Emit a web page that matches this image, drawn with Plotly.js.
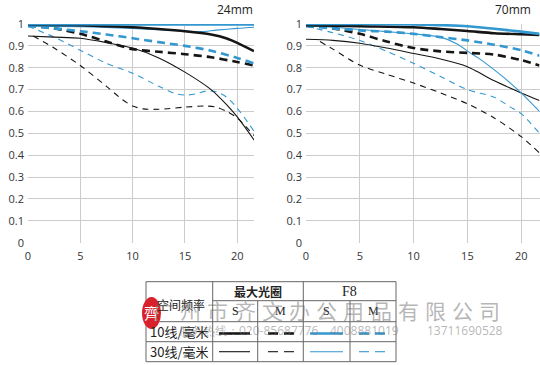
<!DOCTYPE html>
<html><head><meta charset="utf-8">
<script src="https://cdn.plot.ly/plotly-3.0.1.min.js"></script>
<style>html,body{margin:0;padding:0;background:#fff}#c{width:540px;height:365px}</style>
</head><body><div id="c"></div>
<script>
// ---------- DATA ----------
const xTicks = [0, 5, 10, 15, 20];
const yTicks = [0, 0.1, 0.2, 0.3, 0.4, 0.5, 0.6, 0.7, 0.8, 0.9, 1];
const yTickText = ['0', '0.1', '0.2', '0.3', '0.4', '0.5', '0.6', '0.7', '0.8', '0.9', '1'];
const chartTitles = ['24mm', '70mm'];

// 24mm  (A = max aperture, F = F8; 10/30 lines/mm; S/M)
const w_A10S_x = [0, 2.5, 5, 7.5, 10, 12.5, 15, 17.5, 19, 20, 21.6];
const w_A10S_y = [0.997, 0.996, 0.994, 0.99, 0.985, 0.977, 0.967, 0.952, 0.934, 0.914, 0.876];
const w_A10M_x = [0, 2.5, 5, 7.5, 10, 12.5, 15, 17.5, 20, 21.6];
const w_A10M_y = [0.995, 0.98, 0.955, 0.92, 0.885, 0.873, 0.862, 0.848, 0.826, 0.81];
const w_A30S_x = [0, 2.5, 5, 7.5, 10, 12.5, 15, 17.5, 19, 20, 21.6];
const w_A30S_y = [0.945, 0.94, 0.935, 0.915, 0.89, 0.845, 0.78, 0.70, 0.63, 0.575, 0.47];
const w_A30M_x = [0.5, 2.5, 5, 7.5, 9, 10, 11, 12.5, 15, 17, 18, 19, 20, 21.6];
const w_A30M_y = [0.945, 0.89, 0.81, 0.715, 0.655, 0.625, 0.612, 0.61, 0.62, 0.625, 0.62, 0.6, 0.57, 0.49];
const w_F10S_x = [0, 5, 10, 15, 20, 21.6];
const w_F10S_y = [0.999, 0.999, 0.998, 0.998, 0.998, 0.998];
const w_F10M_x = [0, 2.5, 5, 7.5, 10, 12.5, 15, 17.5, 20, 21.6];
const w_F10M_y = [0.99, 0.98, 0.967, 0.952, 0.935, 0.917, 0.9, 0.878, 0.845, 0.82];
const w_F30S_x = [0, 5, 10, 15, 16.5, 18, 20, 21.6];
const w_F30S_y = [0.99, 0.988, 0.98, 0.967, 0.965, 0.972, 0.98, 0.985];
const w_F30M_x = [0, 2.5, 5, 7.5, 10, 12.5, 14, 15, 16, 17, 18, 19, 20, 21.6];
const w_F30M_y = [0.99, 0.94, 0.88, 0.82, 0.775, 0.715, 0.683, 0.675, 0.68, 0.693, 0.69, 0.665, 0.615, 0.51];

// 70mm
const t_A10S_x = [0, 5, 10, 12.5, 15, 17.5, 20, 21.7];
const t_A10S_y = [0.995, 0.99, 0.985, 0.977, 0.968, 0.958, 0.953, 0.95];
const t_A10M_x = [0, 2.5, 5, 7.5, 10, 12.5, 15, 17.5, 20, 21.7];
const t_A10M_y = [0.995, 0.98, 0.955, 0.92, 0.89, 0.875, 0.868, 0.86, 0.835, 0.81];
const t_A30S_x = [0, 2.5, 5, 7.5, 10, 12.5, 15, 16, 17.5, 20, 21.7];
const t_A30S_y = [0.93, 0.925, 0.912, 0.89, 0.865, 0.84, 0.805, 0.78, 0.74, 0.685, 0.65];
const t_A30M_x = [1.3, 2.5, 5, 7.5, 10, 12.5, 15, 17.5, 20, 21.7];
const t_A30M_y = [0.92, 0.885, 0.812, 0.77, 0.73, 0.685, 0.635, 0.57, 0.485, 0.41];
const t_F10S_x = [0, 5, 10, 12.5, 15, 17.5, 20, 21.7];
const t_F10S_y = [1.0, 1.0, 0.998, 0.995, 0.99, 0.978, 0.965, 0.955];
const t_F10M_x = [0, 2.5, 5, 7.5, 10, 12.5, 15, 17.5, 20, 21.7];
const t_F10M_y = [0.99, 0.98, 0.97, 0.965, 0.955, 0.94, 0.925, 0.905, 0.88, 0.855];
const t_F30S_x = [0, 2.5, 5, 7.5, 10, 12.5, 14, 15.2, 16, 17.5, 19, 20, 21.7];
const t_F30S_y = [0.99, 0.985, 0.975, 0.965, 0.955, 0.94, 0.91, 0.87, 0.845, 0.79, 0.73, 0.685, 0.6];
const t_F30M_x = [0, 2.5, 5, 7.5, 10, 12.5, 15, 17.5, 19, 20, 21.7];
const t_F30M_y = [0.99, 0.96, 0.925, 0.875, 0.82, 0.76, 0.7, 0.665, 0.62, 0.59, 0.5];

// legend table text
const tblHeadAperture = '最大光圈';
const tblHeadF8 = 'F8';
const tblHeadFreq = '空间频率';
const tblSM = ['S', 'M', 'S', 'M'];
const tblRows = ['10线/毫米', '30线/毫米'];
const wmCompany = '广州市齐文办公用品有限公司';
const wmPhones = ['服务热线：020-85687776', '4008881019', '13711690528'];

// ---------- STYLE ----------
const BLACK = '#151515', BLUE = '#3397d0';
const W = 540, H = 365;
const FONT = 'Open Sans, Noto Sans, sans-serif';
const CJK = 'Noto Sans CJK SC, sans-serif';
const SERIF = 'Liberation Serif, serif';
const TH = 2.6, TN = 1.1;
const DTH = '8px,5px', DTN = '6px,5px';

function tr(x, y, xa, ya, color, width, dash) {
  return {x: x, y: y, xaxis: xa, yaxis: ya, type: 'scatter', mode: 'lines',
    line: {color: color, width: width, dash: dash || 'solid', shape: 'spline', smoothing: 0.8},
    hoverinfo: 'skip', showlegend: false};
}
const data = [
  tr(w_A30M_x, w_A30M_y, 'x', 'y', BLACK, TN, DTN),
  tr(w_F30M_x, w_F30M_y, 'x', 'y', BLUE, TN, DTN),
  tr(w_A30S_x, w_A30S_y, 'x', 'y', BLACK, TN),
  tr(w_A10M_x, w_A10M_y, 'x', 'y', BLACK, TH, DTH),
  tr(w_F10M_x, w_F10M_y, 'x', 'y', BLUE, TH, DTH),
  tr(w_F30S_x, w_F30S_y, 'x', 'y', BLUE, TN),
  tr(w_A10S_x, w_A10S_y, 'x', 'y', BLACK, TH),
  tr(w_F10S_x, w_F10S_y, 'x', 'y', BLUE, TH),

  tr(t_A30M_x, t_A30M_y, 'x2', 'y2', BLACK, TN, DTN),
  tr(t_F30M_x, t_F30M_y, 'x2', 'y2', BLUE, TN, DTN),
  tr(t_A30S_x, t_A30S_y, 'x2', 'y2', BLACK, TN),
  tr(t_F30S_x, t_F30S_y, 'x2', 'y2', BLUE, TN),
  tr(t_A10M_x, t_A10M_y, 'x2', 'y2', BLACK, TH, DTH),
  tr(t_F10M_x, t_F10M_y, 'x2', 'y2', BLUE, TH, DTH),
  tr(t_A10S_x, t_A10S_y, 'x2', 'y2', BLACK, TH),
  tr(t_F10S_x, t_F10S_y, 'x2', 'y2', BLUE, TH)
];

function xa(d0, d1, anchor, rmax) {
  return {domain: [d0 / W, d1 / W], range: [0, rmax], anchor: anchor,
    tickvals: xTicks, ticktext: xTicks.map(String), showgrid: true, gridcolor: '#cccccc', gridwidth: 1,
    zeroline: false, showline: false, ticks: '', ticklabelstandoff: 5,
    tickfont: {family: FONT, size: 11, color: '#333'}, fixedrange: true};
}
function ya(anchor) {
  return {domain: [1 - 242.7 / H, 1 - 24 / H], range: [0, 1.0], anchor: anchor,
    tickvals: yTicks, ticktext: yTickText, showgrid: true, gridcolor: '#cccccc', gridwidth: 1,
    zeroline: false, showline: false, ticks: '', ticklabelstandoff: 3,
    tickfont: {family: FONT, size: 11, color: '#333'}, fixedrange: true};
}

const px = v => v / W, py = v => 1 - v / H;
const shapes = [];
function L(x0, y0, x1, y1, color, width, dash) {
  shapes.push({type: 'line', xref: 'paper', yref: 'paper', x0: px(x0), y0: py(y0), x1: px(x1), y1: py(y1),
    line: {color: color, width: width, dash: dash || 'solid'}});
}
// table grid
const TB = '#666';
const tL = 146, tR = 396, tT = 281.7, tB = 361.7;
const c1 = 212.7, c2 = 257.7, c3 = 303.3, c4 = 350;
const r1 = 300.7, r2 = 321.7, r3 = 341.7;
L(tL, tT, tR, tT, TB, 1); L(tL, tB, tR, tB, TB, 1);
L(tL, tT, tL, tB, TB, 1); L(tR, tT, tR, tB, TB, 1);
L(c1, tT, c1, tB, TB, 1); L(c3, tT, c3, tB, TB, 1);
L(c2, r1, c2, tB, TB, 1); L(c4, r1, c4, tB, TB, 1);
L(c1, r1, tR, r1, TB, 1);
L(tL, r2, tR, r2, TB, 1); L(tL, r3, tR, r3, TB, 1);
// legend samples
const rowY = [333.5, 351.7];
[[TH, DTH], [TN, DTN]].forEach((s, i) => {
  const y = rowY[i];
  L(219, y, 250, y, BLACK, s[0]);
  L(268, y, 278, y, BLACK, s[0]); L(284, y, 294, y, BLACK, s[0]);
  L(310, y, 343, y, BLUE, s[0]);
  L(359, y, 369, y, BLUE, s[0]); L(375, y, 385, y, BLUE, s[0]);
});
// seal
shapes.push({type: 'circle', xref: 'paper', yref: 'paper', x0: px(142), x1: px(161), y0: py(329), y1: py(297),
  fillcolor: '#d8222b', line: {width: 0}});

const ann = [];
function T(text, x, y, size, family, color, xanchor, extra) {
  ann.push(Object.assign({text: text, x: px(x), y: py(y), xref: 'paper', yref: 'paper', showarrow: false,
    xanchor: xanchor || 'center', yanchor: 'middle', font: {size: size, family: family, color: color}}, extra || {}));
}
T(chartTitles[0], 255, 9, 12, FONT, '#222', 'right');
T(chartTitles[1], 533, 9, 12, FONT, '#222', 'right');
T('<b>' + tblHeadAperture + '</b>', (c1 + c3) / 2, 291, 12, CJK, '#222');
T(tblHeadF8, (c3 + tR) / 2, 291, 14, SERIF, '#222');
const smX = [(c1 + c2) / 2, (c2 + c3) / 2, (c3 + c4) / 2, (c4 + tR) / 2];
tblSM.forEach((s, i) => T(s, smX[i], 311, 12, SERIF, '#222'));
T(tblHeadFreq, (tL + c1) / 2 + 2, 304, 12, CJK, '#222');
tblRows.forEach((s, i) => T(s, (tL + c1) / 2, [331.7, 351.7][i], 13, CJK, '#222'));
// watermark
T('齊', 151.5, 312, 15, CJK, '#ffffff');
Array.from(wmCompany).forEach((ch, i) => T(ch, 163.5 + 27.2 * i, 310, 21, CJK, 'rgba(110,110,110,0.5)'));
T(wmPhones[0], 177, 330, 12, FONT, 'rgba(120,120,120,0.55)', 'left');
T(wmPhones[1], 328, 330, 12, FONT, 'rgba(120,120,120,0.55)', 'left');
T(wmPhones[2], 425, 330, 12, FONT, 'rgba(120,120,120,0.55)', 'left');

const layout = {
  width: W, height: H, margin: {l: 0, r: 0, t: 0, b: 0},
  paper_bgcolor: '#fff', plot_bgcolor: '#fff', showlegend: false,
  xaxis: xa(28, 254, 'y', 21.6), yaxis: ya('x'),
  xaxis2: xa(306, 539.5, 'y2', 21.7), yaxis2: ya('x2'),
  shapes: shapes, annotations: ann
};
Plotly.newPlot('c', data, layout, {staticPlot: true, displayModeBar: false});
</script></body></html>
